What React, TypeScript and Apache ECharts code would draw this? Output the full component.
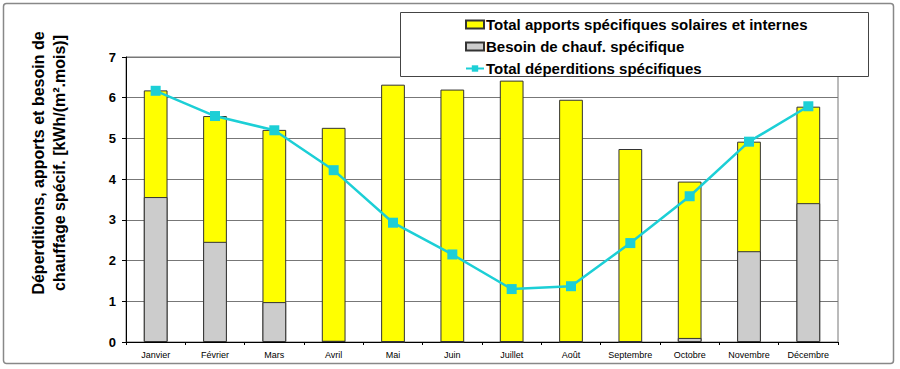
import React, { useEffect, useRef } from "react";
import * as echarts from "echarts";

const months = ["Janvier", "Février", "Mars", "Avril", "Mai", "Juin", "Juillet", "Août", "Septembre", "Octobre", "Novembre", "Décembre"];
const apports = [6.18, 5.55, 5.21, 5.26, 6.32, 6.2, 6.42, 5.95, 4.74, 3.94, 4.92, 5.78];
const besoin = [3.56, 2.46, 0.98, 0.03, 0, 0, 0, 0, 0, 0.1, 2.23, 3.41];
const deperditions = [6.17, 5.55, 5.2, 4.22, 2.93, 2.15, 1.3, 1.37, 2.43, 3.58, 4.92, 5.79];
const yTicks = [0, 1, 2, 3, 4, 5, 6, 7];

const FONT = "Liberation Sans, Arial, sans-serif";

export default function App() {
  const ref = useRef<HTMLDivElement>(null);
  useEffect(() => {
    if (!ref.current) return;
    const chart = echarts.init(ref.current, null, { renderer: "svg" });
    chart.setOption({
      animation: false,
      backgroundColor: "#fff",
      grid: {
        left: 126, right: 62, top: 57, bottom: 27,
        show: true, borderColor: "#777", borderWidth: 1, backgroundColor: "transparent",
      },
      xAxis: {
        type: "category",
        data: months,
        axisLine: { lineStyle: { color: "#000", width: 1 } },
        axisTick: { show: true, length: 3, lineStyle: { color: "#000" } },
        axisLabel: { fontFamily: FONT, fontSize: 9, color: "#000", margin: 8 },
      },
      yAxis: {
        type: "value",
        min: yTicks[0],
        max: yTicks[yTicks.length - 1],
        interval: 1,
        axisLine: { show: true, lineStyle: { color: "#000", width: 1 } },
        axisTick: { show: true, length: 4, lineStyle: { color: "#000" } },
        axisLabel: { fontFamily: FONT, fontSize: 13, fontWeight: "bold", color: "#000", margin: 10 },
        splitLine: { show: true, lineStyle: { color: "#777", width: 1 } },
      },
      legend: {
        orient: "vertical",
        left: 465,
        top: 16,
        padding: 0,
        itemGap: 5,
        itemWidth: 18,
        itemHeight: 8,
        z: 20,
        textStyle: { fontFamily: FONT, fontSize: 15, fontWeight: "bold", color: "#000", lineHeight: 17, padding: [0, 0, 0, -3] },
        data: [
          { name: "Total apports spécifiques solaires et internes", icon: "rect" },
          { name: "Besoin de chauf. spécifique", icon: "rect" },
          { name: "Total déperditions spécifiques" },
        ],
      },
      graphic: [
        {
          type: "rect", z: 15, shape: { x: 400.5, y: 12.5, width: 468, height: 64 },
          style: { fill: "#fff", stroke: "#444", lineWidth: 1 },
        },
        {
          type: "rect", z: 0, silent: true, shape: { x: 3.5, y: 3.5, width: 890, height: 360, r: 3 },
          style: { fill: "none", stroke: "#888", lineWidth: 1.5 },
        },
        {
          type: "text", x: 38, y: 163, rotation: Math.PI / 2, z: 5,
          style: {
            text: "Déperditions, apports et besoin de", fontFamily: FONT, fontSize: 16, fontWeight: "bold",
            fill: "#000", align: "center", verticalAlign: "middle",
          },
        },
        {
          type: "text", x: 59, y: 163, rotation: Math.PI / 2, z: 5,
          style: {
            text: "chauffage spécif. [kWh/(m².mois)]", fontFamily: FONT, fontSize: 16, fontWeight: "bold",
            fill: "#000", align: "center", verticalAlign: "middle",
          },
        },
      ],
      series: [
        {
          name: "Total apports spécifiques solaires et internes",
          type: "bar",
          data: apports,
          barWidth: "40%",
          itemStyle: { color: "#ffff00", borderColor: "#333", borderWidth: 1 },
        },
        {
          name: "Besoin de chauf. spécifique",
          type: "bar",
          data: besoin,
          barWidth: "40%",
          barGap: "-100%",
          itemStyle: { color: "#cccccc", borderColor: "#333", borderWidth: 1 },
        },
        {
          name: "Total déperditions spécifiques",
          type: "line",
          data: deperditions,
          symbol: "rect",
          symbolSize: 10,
          lineStyle: { color: "#1ccfd6", width: 2.5 },
          itemStyle: { color: "#1ccfd6" },
          z: 5,
        },
      ],
    });
    return () => chart.dispose();
  }, []);
  return <div ref={ref} style={{ width: 900, height: 369, position: "absolute", left: 0, top: 0 }} />;
}
